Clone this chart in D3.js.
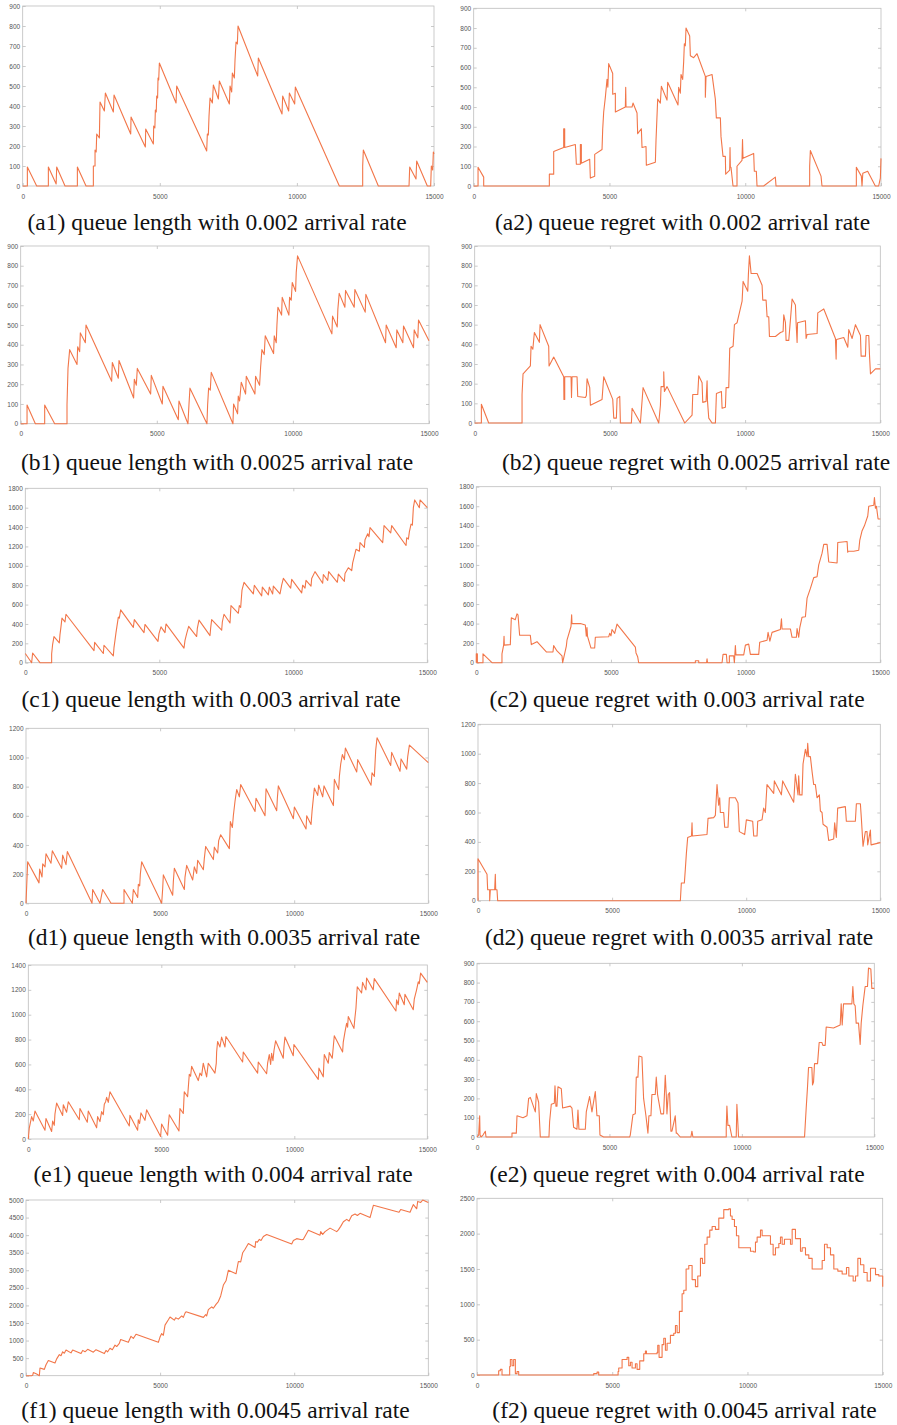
<!DOCTYPE html>
<html><head><meta charset="utf-8">
<script src="https://cdn.jsdelivr.net/npm/d3@7"></script>
<style>body{margin:0;background:#fff}svg{display:block}</style>
</head><body><svg id="chart" width="897" height="1425"></svg>
<script>
// ---------- data ----------
const xTicks = [0, 5000, 10000, 15000];

const a1Length = [[0,0],[170,0],[170,95],[510,0],[936,0],[936,95],[1220,10],[1240,95],[1544,0],[1994,0],[1994,95],[2310,0],[2577,0],[2577,100],[2638,100],[2638,180],[2680,170],[2699,260],[2796,240],[2820,420],[2978,375],[3015,465],[3306,370],[3331,455],[3939,260],[3951,345],[4473,195],[4486,285],[4765,210],[4777,300],[4820,290],[4838,380],[4870,370],[4887,450],[4920,440],[4935,540],[4960,530],[4984,615],[5592,415],[5616,500],[6710,175],[6734,260],[6770,255],[6795,350],[6832,440],[6917,415],[6953,505],[7136,435],[7172,525],[7537,410],[7561,500],[7622,470],[7646,565],[7719,540],[7743,630],[7780,720],[7828,710],[7853,800],[8570,550],[8594,640],[9457,360],[9481,450],[9700,375],[9725,465],[9919,410],[9943,495],[11548,0],[12399,0],[12399,100],[12423,180],[12970,0],[14089,0],[14114,95],[14344,35],[14368,125],[14757,0],[14879,0],[14903,100],[14952,80],[14976,170],[15000,160]];

const a2Regret = [[0,0],[160,0],[160,95],[368,45],[368,0],[2786,0],[2786,60],[2946,60],[2946,175],[3314,195],[3314,290],[3351,290],[3351,195],[3744,210],[3781,110],[3928,110],[3928,210],[3965,210],[3965,115],[4272,135],[4296,40],[4456,50],[4456,160],[4726,185],[4750,285],[4787,375],[4849,450],[4910,540],[4940,500],[4971,620],[5119,570],[5119,465],[5217,470],[5217,375],[5585,400],[5598,500],[5610,400],[5831,400],[5867,420],[6015,370],[6039,265],[6174,290],[6199,195],[6346,200],[6358,105],[6690,120],[6714,230],[6776,440],[6874,420],[6911,505],[7119,435],[7144,525],[7524,410],[7549,500],[7610,470],[7635,565],[7696,540],[7733,630],[7758,720],[7794,710],[7819,800],[7954,760],[7979,660],[8101,650],[8224,670],[8531,555],[8531,450],[8556,555],[8777,565],[8899,440],[8936,345],[9084,345],[9108,250],[9182,150],[9268,150],[9280,60],[9427,80],[9440,195],[9452,95],[9476,95],[9550,0],[9697,0],[9697,100],[9881,130],[9900,235],[9918,140],[10311,165],[10335,75],[10409,75],[10434,0],[10679,0],[11109,45],[11134,0],[12373,0],[12373,100],[12398,180],[12791,50],[12827,0],[14092,0],[14092,95],[14276,50],[14301,0],[14330,65],[14509,75],[14791,0],[14914,0],[14976,40],[15000,140]];

const b1Length = [[0,0],[233,0],[233,95],[539,0],[881,0],[881,95],[1248,0],[1701,0],[1701,95],[1738,280],[1799,375],[2069,300],[2093,390],[2166,365],[2191,460],[2375,410],[2399,500],[3342,215],[3366,310],[3586,230],[3611,320],[4149,130],[4174,225],[4247,195],[4284,280],[4774,150],[4798,245],[5202,100],[5226,190],[5790,20],[5814,115],[6144,0],[6181,95],[6218,180],[6842,0],[6867,95],[6903,180],[6965,170],[7001,260],[7797,0],[7821,100],[7968,50],[7993,140],[8042,115],[8103,210],[8262,150],[8287,240],[8605,150],[8629,240],[8776,195],[8813,285],[8862,375],[8947,350],[8984,445],[9290,355],[9315,445],[9388,410],[9413,500],[9449,590],[9584,550],[9608,640],[9853,550],[9878,640],[9939,625],[9976,715],[10098,670],[10122,765],[10171,850],[11432,455],[11457,545],[11628,490],[11652,580],[11701,660],[11910,590],[11934,675],[12252,590],[12277,680],[12656,565],[12681,655],[13403,410],[13427,500],[13794,385],[13819,475],[14039,410],[14064,495],[14431,385],[14456,475],[14590,435],[14615,525],[15000,420]];

const b2Regret = [[0,0],[247,0],[247,95],[518,0],[1751,0],[1751,145],[1788,250],[2059,290],[2084,390],[2150,375],[2207,460],[2392,410],[2417,500],[2737,390],[2750,290],[2922,335],[3292,235],[3300,120],[3329,120],[3329,235],[3563,235],[3580,130],[3600,235],[3785,235],[3810,135],[4094,130],[4131,140],[4155,225],[4254,180],[4279,90],[4710,120],[4772,235],[5105,120],[5142,25],[5240,25],[5265,125],[5364,135],[5388,0],[5795,0],[5820,75],[6128,0],[6227,180],[6806,0],[6868,90],[6892,185],[6991,185],[6991,260],[7016,160],[7114,185],[7768,0],[8039,40],[8064,145],[8249,145],[8286,240],[8409,205],[8434,105],[8557,110],[8594,215],[8610,110],[8656,25],[8779,0],[8902,0],[8939,150],[9124,160],[9149,75],[9272,80],[9297,180],[9395,180],[9432,380],[9556,390],[9605,500],[9704,510],[9889,620],[9926,720],[10098,670],[10123,760],[10160,850],[10222,760],[10444,760],[10628,700],[10653,625],[10776,625],[10813,540],[10875,540],[10900,440],[11122,440],[11307,460],[11405,465],[11430,550],[11492,510],[11516,420],[11615,420],[11738,630],[11861,600],[11886,510],[11923,410],[11940,510],[12231,520],[12256,430],[12293,450],[12663,455],[12688,560],[12910,580],[13341,430],[13366,325],[13380,425],[13649,435],[13797,385],[13834,475],[13958,430],[14081,500],[14266,445],[14291,340],[14451,340],[14475,445],[14574,445],[14599,350],[14636,250],[14821,275],[15000,275]];

const c1Length = [[0,95],[236,0],[274,100],[547,0],[983,0],[983,90],[1020,190],[1070,270],[1269,205],[1294,290],[1331,370],[1368,460],[1480,420],[1518,500],[2563,125],[2588,210],[2911,95],[2936,180],[3284,70],[3309,155],[3346,230],[3384,310],[3471,470],[3508,460],[3558,545],[4031,365],[4068,445],[4429,310],[4466,395],[4951,220],[4988,300],[5063,370],[5212,310],[5250,400],[5921,150],[5959,230],[6021,300],[6096,375],[6394,270],[6419,355],[6481,440],[6892,280],[6917,360],[6954,445],[7327,335],[7352,420],[7414,500],[7638,410],[7675,590],[7949,510],[7986,590],[8036,570],[8086,750],[8161,830],[8509,710],[8546,800],[8820,690],[8845,780],[9069,700],[9106,780],[9230,710],[9255,790],[9504,710],[9566,800],[9629,870],[9902,770],[9940,860],[10313,720],[10350,800],[10437,770],[10474,850],[10661,790],[10686,870],[10810,940],[11096,820],[11121,910],[11283,850],[11320,940],[11644,830],[11681,915],[11905,840],[11930,920],[12054,980],[12179,950],[12216,1030],[12278,1100],[12340,1170],[12465,1150],[12490,1240],[12651,1190],[12676,1270],[12776,1330],[12825,1300],[12863,1395],[13336,1240],[13386,1415],[13635,1340],[13672,1415],[14206,1210],[14231,1290],[14294,1275],[14331,1350],[14393,1430],[14443,1420],[14480,1600],[14530,1680],[14704,1600],[14729,1680],[15000,1600]];

const c2Regret = [[0,0],[0,90],[40,90],[40,0],[248,0],[248,90],[582,0],[953,0],[953,90],[1015,180],[1030,270],[1040,180],[1263,185],[1300,460],[1448,440],[1510,500],[1548,490],[1609,280],[2006,280],[2043,185],[2253,215],[2600,110],[2847,110],[2872,175],[2996,120],[3182,70],[3206,0],[3343,170],[3367,230],[3516,370],[3540,490],[3553,400],[3863,400],[4048,385],[4085,270],[4110,360],[4130,270],[4259,150],[4395,150],[4420,260],[4915,265],[4952,300],[5000,275],[5039,340],[5138,300],[5224,395],[5905,160],[5930,100],[5992,60],[6029,0],[8134,0],[8134,20],[8258,20],[8258,0],[8550,0],[8567,40],[8585,0],[9124,0],[9161,85],[9285,85],[9310,0],[9396,0],[9396,70],[9557,70],[9582,0],[9619,175],[9640,80],[9929,80],[9991,180],[10114,190],[10176,85],[10486,85],[10523,210],[10795,230],[10833,310],[10900,220],[10981,310],[11291,340],[11330,450],[11352,345],[11662,345],[11724,260],[11885,260],[11910,350],[11971,260],[12009,355],[12095,465],[12219,470],[12281,660],[12405,760],[12529,870],[12652,880],[12714,1000],[12838,1120],[12900,1210],[13024,1210],[13086,1030],[13395,1020],[13420,1230],[13767,1240],[13790,1130],[13804,1140],[14014,1140],[14200,1150],[14237,1250],[14324,1350],[14410,1400],[14534,1500],[14571,1600],[14757,1610],[14782,1690],[14819,1580],[14856,1600],[14918,1470],[15000,1470]];

const d1Length = [[0,0],[62,285],[485,140],[510,235],[597,180],[622,270],[709,250],[746,340],[932,275],[982,360],[1330,240],[1367,330],[1492,265],[1541,355],[2461,0],[2486,95],[2759,0],[2859,95],[3170,0],[3654,0],[3654,95],[3965,0],[4002,95],[4164,40],[4189,130],[4239,120],[4263,200],[4313,285],[5059,0],[5096,100],[5121,195],[5469,55],[5494,150],[5531,240],[5904,95],[5929,180],[5991,260],[6215,160],[6277,250],[6364,205],[6401,295],[6613,230],[6650,310],[6700,390],[6986,300],[7023,385],[7147,345],[7184,430],[7259,470],[7582,375],[7620,560],[7694,520],[7731,600],[7793,700],[7856,780],[7955,730],[8005,815],[8540,630],[8576,720],[8912,600],[8950,785],[9347,635],[9372,720],[9409,805],[9969,580],[10006,660],[10441,510],[10466,600],[10628,540],[10665,630],[10752,790],[10876,740],[10913,810],[11062,730],[11112,805],[11461,670],[11498,850],[11659,780],[11684,870],[11734,955],[11796,1020],[11871,985],[11908,1065],[12331,900],[12368,985],[12865,810],[12902,895],[12989,870],[13039,1050],[13089,1135],[13598,945],[13635,1035],[13946,905],[13984,990],[14195,920],[14232,1005],[14295,1085],[15000,965]];

const d2Regret = [[0,0],[0,285],[336,180],[360,75],[435,75],[435,0],[460,75],[622,75],[646,180],[660,75],[708,75],[733,0],[7545,0],[7582,120],[7694,120],[7731,215],[7769,320],[7818,430],[7960,440],[7980,530],[7995,440],[8539,450],[8577,560],[8788,565],[8850,580],[8912,790],[8974,650],[9011,700],[9036,600],[9161,600],[9198,500],[9322,500],[9372,700],[9596,700],[9695,665],[9745,470],[9944,450],[10006,550],[10242,540],[10280,440],[10404,440],[10429,540],[10590,550],[10652,630],[10714,600],[10776,790],[11025,730],[11050,815],[11311,720],[11361,815],[11771,670],[11833,860],[11933,720],[11957,850],[11995,720],[12082,720],[12119,930],[12206,1030],[12268,980],[12293,1070],[12330,980],[12393,980],[12455,880],[12517,790],[12579,790],[12641,700],[12728,720],[12766,610],[12828,600],[12865,520],[13014,500],[13076,410],[13262,420],[13299,530],[13361,430],[13411,630],[13697,640],[13734,540],[14070,540],[14108,660],[14257,660],[14294,560],[14356,370],[14443,470],[14505,470],[14530,380],[14630,480],[14655,380],[15000,395]];

const e1Length = [[0,0],[38,90],[125,180],[188,145],[251,225],[627,70],[664,165],[877,60],[915,145],[977,110],[1002,200],[1065,290],[1291,190],[1316,275],[1441,215],[1504,300],[1917,155],[1942,245],[2218,135],[2255,225],[2569,90],[2606,180],[2694,140],[2757,220],[2819,195],[2857,280],[2907,300],[2945,335],[3007,295],[3070,380],[3797,105],[3822,190],[4110,70],[4135,155],[4185,125],[4235,210],[4386,150],[4448,235],[4974,20],[5012,120],[5238,30],[5263,110],[5300,195],[5664,65],[5701,245],[5826,205],[5864,380],[5989,340],[6052,520],[6102,505],[6140,585],[6390,470],[6453,530],[6516,510],[6578,610],[6704,500],[6766,610],[7017,530],[7067,610],[7080,700],[7117,785],[7205,740],[7267,820],[7393,740],[7430,825],[8057,620],[8082,700],[8621,530],[8646,620],[8959,525],[8997,610],[9059,680],[9110,600],[9147,690],[9197,630],[9235,710],[9297,790],[9585,650],[9611,740],[9648,820],[9961,670],[9986,760],[10901,480],[10926,570],[11089,500],[11127,680],[11277,610],[11314,695],[11427,650],[11465,740],[11503,830],[11816,700],[11841,780],[11904,860],[11966,930],[12004,900],[12029,985],[12242,890],[12279,975],[12317,1050],[12367,1225],[12530,1175],[12568,1260],[12693,1200],[12718,1295],[12968,1200],[13006,1290],[13821,1030],[13846,1120],[13908,1080],[13946,1175],[14134,1080],[14159,1165],[14472,1040],[14510,1125],[14597,1200],[14660,1265],[14698,1250],[14748,1335],[15000,1260]];

const e2Regret = [[0,0],[63,10],[101,110],[115,10],[151,0],[226,10],[315,30],[340,0],[1321,0],[1321,20],[1484,20],[1510,110],[1736,100],[1887,110],[1950,200],[2013,205],[2202,130],[2239,225],[2327,180],[2365,70],[2390,0],[2717,0],[2742,80],[2805,170],[2919,175],[2944,265],[2980,160],[3019,160],[3057,260],[3183,250],[3233,150],[3522,160],[3585,150],[3648,50],[3774,40],[3812,140],[3849,40],[4089,40],[4126,130],[4252,210],[4340,130],[4466,235],[4529,110],[4617,110],[4642,10],[4780,0],[5762,0],[5787,10],[5887,115],[5976,120],[6013,310],[6076,310],[6114,420],[6227,415],[6290,200],[6378,110],[6453,20],[6491,110],[6567,110],[6604,220],[6730,220],[6768,310],[6818,220],[6944,120],[7045,120],[7108,320],[7146,220],[7171,120],[7221,220],[7271,230],[7322,30],[7360,30],[7485,110],[7523,20],[7548,20],[7674,0],[8076,0],[8114,30],[8152,0],[9410,0],[9410,45],[9435,160],[9473,60],[9536,60],[9624,0],[9787,0],[9812,170],[9875,0],[12366,0],[12391,60],[12429,150],[12479,260],[12517,360],[12643,360],[12668,270],[12706,285],[12743,380],[12857,380],[12919,490],[13020,490],[13058,475],[13146,475],[13184,570],[13460,565],[13712,580],[13750,690],[13788,580],[13838,690],[14027,690],[14153,690],[14190,780],[14228,690],[14278,680],[14316,590],[14404,590],[14467,480],[14505,590],[14567,680],[14655,780],[14743,780],[14781,875],[14869,870],[14907,770],[15000,770]];

const f1Length = [[0,0],[211,0],[249,10],[273,90],[398,50],[497,0],[522,220],[684,180],[746,310],[833,430],[1081,360],[1144,480],[1243,600],[1305,570],[1367,680],[1429,640],[1492,730],[1678,650],[1740,730],[2051,630],[2113,720],[2200,680],[2300,750],[2511,670],[2610,740],[2921,630],[2983,720],[3045,680],[3132,780],[3219,740],[3319,870],[3381,830],[3480,920],[3530,1030],[3816,950],[3915,1120],[4002,1060],[4102,1180],[4935,950],[4997,1100],[5059,1200],[5121,1150],[5183,1440],[5308,1590],[5370,1670],[5531,1580],[5581,1650],[5681,1610],[5805,1700],[5867,1660],[5929,1780],[5966,1820],[6613,1660],[6700,1740],[6737,1700],[6799,1880],[6924,1960],[6986,1920],[7085,2030],[7172,2110],[7259,2270],[7359,2580],[7458,2700],[7545,3000],[7831,2900],[7918,3250],[8005,3240],[8080,3500],[8167,3600],[8291,3760],[8540,3650],[8565,3820],[8627,3800],[8701,3880],[8763,3850],[8850,3960],[8975,4020],[9907,3750],[9969,3850],[10093,3900],[10280,3870],[10342,3880],[10528,4140],[10963,4000],[10988,4100],[11063,4020],[11150,4100],[11336,4200],[11585,4100],[11647,4150],[11734,4250],[11833,4380],[11958,4450],[12045,4400],[12144,4550],[12268,4600],[12355,4560],[12455,4620],[12828,4500],[12952,4850],[13909,4650],[13971,4730],[14319,4650],[14443,4870],[14568,4750],[14605,4960],[14717,4930],[14792,5000],[15000,4930]];

const f2Regret = [[0,0],[764,0],[801,60],[863,80],[925,0],[1171,0],[1208,120],[1233,220],[1295,130],[1356,220],[1418,20],[1480,50],[1541,0],[4254,0],[4316,20],[4439,40],[4500,0],[5179,0],[5216,50],[5240,100],[5364,220],[5549,250],[5610,130],[5672,180],[5733,100],[5857,160],[5918,80],[6017,200],[6165,300],[6227,340],[6264,300],[6658,320],[6683,420],[6732,250],[6843,430],[6905,520],[6966,350],[7028,450],[7151,560],[7275,590],[7337,700],[7398,600],[7484,900],[7583,1150],[7645,1200],[7731,1500],[7830,1550],[7953,1350],[8076,1250],[8162,1400],[8261,1650],[8335,1580],[8421,1850],[8508,1950],[8606,2050],[8693,2100],[8816,2060],[8940,2220],[9124,2340],[9309,2350],[9371,2250],[9432,2200],[9519,2100],[9593,1970],[9679,1800],[10049,1800],[10111,1750],[10234,1740],[10296,1880],[10357,1950],[10481,2050],[10542,1970],[10789,1970],[10850,1850],[10949,1700],[11035,1800],[11159,1860],[11220,1950],[11282,1850],[11368,1920],[11590,1850],[11652,2060],[11775,1930],[11960,1750],[12022,1800],[12145,1700],[12268,1650],[12392,1500],[12700,1500],[12762,1620],[12848,1850],[12947,1800],[13070,1700],[13193,1500],[13341,1470],[13501,1430],[13661,1520],[13748,1400],[13908,1330],[13995,1400],[14081,1650],[14180,1560],[14303,1450],[14426,1330],[14549,1510],[14734,1420],[14857,1400],[15000,1250]];

const captions = [
  "(a1) queue length with 0.002 arrival rate", "(a2) queue regret with 0.002 arrival rate",
  "(b1) queue length with 0.0025 arrival rate", "(b2) queue regret with 0.0025 arrival rate",
  "(c1) queue length with 0.003 arrival rate", "(c2) queue regret with 0.003 arrival rate",
  "(d1) queue length with 0.0035 arrival rate", "(d2) queue regret with 0.0035 arrival rate",
  "(e1) queue length with 0.004 arrival rate", "(e2) queue regret with 0.004 arrival rate",
  "(f1) queue length with 0.0045 arrival rate", "(f2) queue regret with 0.0045 arrival rate"
];
const series = [a1Length, a2Regret, b1Length, b2Regret, c1Length, c2Regret, d1Length, d2Regret, e1Length, e2Regret, f1Length, f2Regret];
const yMaxes = [900, 900, 900, 900, 1800, 1800, 1200, 1200, 1400, 900, 5000, 2500];
const yStepsArr = [100, 100, 100, 100, 200, 200, 200, 200, 200, 100, 500, 500];

// ---------- layout (pixels) ----------
const boxes = [
  [22.7, 6, 434, 186], [473.7, 8.3, 881, 186],
  [20.7, 246, 429, 423.7], [474.7, 246, 880.3, 423],
  [25.3, 488.3, 427.3, 662.7], [476.3, 486.7, 880.3, 662.7],
  [26, 728.3, 428.3, 903.3], [478, 724.3, 880.3, 900.7],
  [28.3, 965, 427.3, 1139], [477, 963.3, 874.3, 1137],
  [26, 1200, 428.3, 1375.7], [477, 1198.3, 882.7, 1375]
];
const capPos = [
  [217, 230], [682.5, 230],
  [217, 470], [696, 470],
  [211, 707], [677, 707],
  [224, 945], [679, 945],
  [223, 1182], [677, 1182],
  [215.5, 1418], [684.5, 1418]
];

const svg = d3.select("#chart");
const boxColor = "#bdbdbd";
const lineColor = "#f27649";

series.forEach((data, i) => {
  const [l, t, r, b] = boxes[i];
  const x = d3.scaleLinear().domain([0, 15000]).range([l, r]);
  const y = d3.scaleLinear().domain([0, yMaxes[i]]).range([b, t]);
  const yt = d3.range(0, yMaxes[i] + 1, yStepsArr[i]);
  const g = svg.append("g");

  const style = sel => {
    sel.select(".domain").remove();
    sel.selectAll(".tick line").attr("stroke", boxColor).attr("stroke-width", 0.8);
    sel.selectAll(".tick text").attr("fill", "#555").attr("font-size", "6.5px")
      .attr("font-family", "Liberation Sans, Arial, sans-serif");
  };

  g.append("g").attr("transform", `translate(0,${b})`)
    .call(d3.axisBottom(x).tickValues(xTicks).tickSize(-3).tickPadding(8).tickFormat(d3.format("d")))
    .call(style);
  g.append("g").attr("transform", `translate(0,${t})`)
    .call(d3.axisTop(x).tickValues(xTicks.slice(1, -1)).tickSize(-3).tickFormat(""))
    .call(style);
  g.append("g").attr("transform", `translate(${l},0)`)
    .call(d3.axisLeft(y).tickValues(yt).tickSize(-3).tickPadding(2.5).tickFormat(d3.format("d")))
    .call(style);
  g.append("g").attr("transform", `translate(${r},0)`)
    .call(d3.axisRight(y).tickValues(yt.slice(1, -1)).tickSize(-3).tickFormat(""))
    .call(style);

  g.append("rect").attr("x", l).attr("y", t).attr("width", r - l).attr("height", b - t)
    .attr("fill", "none").attr("stroke", boxColor).attr("stroke-width", 0.8);

  const line = d3.line().x(d => x(d[0])).y(d => y(d[1]));
  if (i === 11) line.curve(d3.curveStepAfter);
  g.append("path").datum(data).attr("d", line)
    .attr("fill", "none").attr("stroke", lineColor).attr("stroke-width", 1.1)
    .attr("stroke-linejoin", "round");

  svg.append("text").attr("x", capPos[i][0]).attr("y", capPos[i][1])
    .attr("text-anchor", "middle").attr("font-family", "Liberation Serif, Times New Roman, serif")
    .attr("font-size", "23.5px").attr("fill", "#111").text(captions[i]);
});
</script>
</body></html>
